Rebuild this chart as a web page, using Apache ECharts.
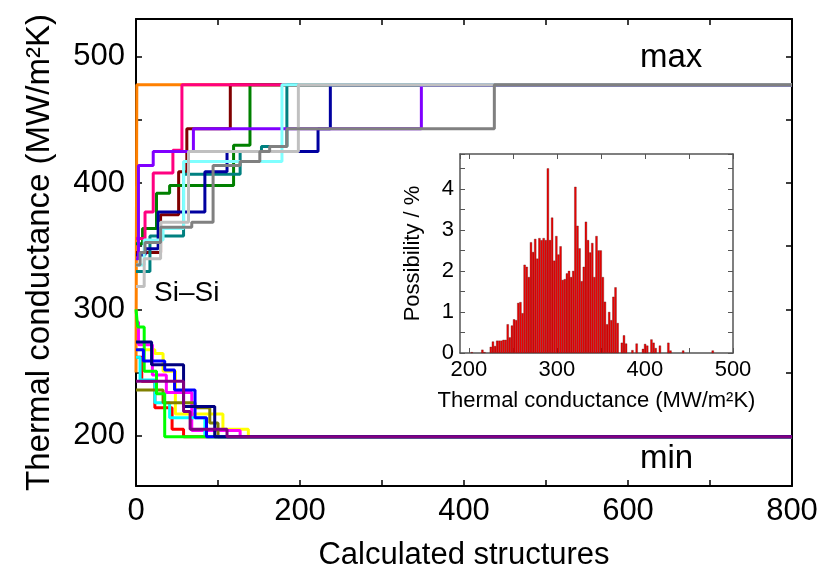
<!DOCTYPE html>
<html lang="en">
<head>
<meta charset="UTF-8">
<title>Thermal conductance search</title>
<script src="https://cdn.jsdelivr.net/npm/echarts@6/dist/echarts.min.js"></script>
<style>
  html, body { margin: 0; padding: 0; background: #fff; }
  #chart { width: 821px; height: 576px; }
</style>
</head>
<body>
<div id="chart"></div>
<script>
// step curves: [structure index where the value changes, new value]
// upper group -> converges to max
var orangeUp = [[0, 250], [1, 478], [800, 478]];
var maroonUp = [[0, 345], [30, 375], [52, 409], [62, 443], [115, 478], [800, 478]];
var greenUp = [[0, 352], [8, 364], [25, 392], [41, 398], [119, 430], [139, 478], [800, 478]];
var pinkUp = [[0, 356], [11, 377], [21, 408], [45, 426], [56, 478], [800, 478]];
var tealUp = [[0, 330], [17, 358], [58, 407], [127, 425], [153, 429], [184, 478], [800, 478]];
var navyUp = [[0, 343], [11, 348], [27, 377], [84, 409], [111, 425], [222, 443], [237, 478], [800, 478]];
var violetUp = [[0, 340], [3, 414], [21, 425], [70, 443], [348, 478], [800, 478]];
var cyanUp = [[0, 335], [10, 355], [33, 364], [58, 417], [178, 478], [800, 478]];
var lgrayUp = [[0, 318], [10, 340], [30, 369], [64, 425], [198, 478], [800, 478]];
var grayUp = [[0, 335], [5, 345], [11, 353], [30, 365], [68, 369], [94, 414], [127, 417], [151, 425], [163, 429], [184, 443], [437, 478], [800, 478]];

// lower group -> converges to min
var redLo = [[0, 262], [7, 243], [23, 222], [44, 205], [58, 199], [800, 199]];
var yellowLo = [[0, 268], [23, 265], [33, 251], [48, 217], [106, 205], [137, 199], [800, 199]];
var magentaLo = [[0, 290], [3, 272], [20, 248], [37, 234], [68, 204], [127, 199], [800, 199]];
var cyanLo = [[0, 262], [5, 244], [23, 226], [41, 214], [84, 199], [800, 199]];
var oliveLo = [[0, 236], [33, 226], [72, 222], [90, 210], [100, 199], [800, 199]];
var limeLo = [[0, 300], [2, 286], [10, 251], [25, 233], [35, 199], [800, 199]];
var blueLo = [[0, 268], [9, 259], [35, 252], [47, 236], [72, 214], [86, 199], [800, 199]];
var navyLo = [[0, 274], [19, 256], [58, 223], [96, 199], [800, 199]];
var purpleLo = [[0, 243], [58, 219], [66, 205], [111, 199], [800, 199]];

// inset histogram (Possibility / %), bins of 2.4 starting at 203.4
var histStart = 203.4;
var binWidth = 2.4;
var histHeights = [
  0.02, 0, 0, 0, 0, 0.08, 0.02, 0, 0, 0.15,
  0.28, 0.17, 0.3, 0.3, 0.3, 0.32, 0.32, 0.7, 0.38, 0.67,
  0.82, 0.8, 1.22, 1.24, 0.97, 2.15, 2.1, 1.85, 2.7, 2.46,
  2.78, 2.3, 2.8, 2.75, 2.8, 2.75, 4.5, 2.75, 3.3, 2.25,
  2.85, 2.4, 2.6, 1.78, 1.8, 1.94, 2.0, 1.85, 2.0, 4.05,
  3.1, 2.55, 1.75, 2.1, 3.2, 2.75, 2.45, 2.68, 1.85, 2.85,
  2.5, 2.5, 1.85, 1.25, 0.7, 1.0, 0.8, 1.37, 1.6, 0.73,
  0, 0.25, 0.43, 0.23, 0, 0, 0.07, 0, 0.23, 0,
  0, 0.1, 0.22, 0.18, 0, 0.33, 0.25, 0.12, 0, 0.18,
  0, 0, 0, 0.25, 0.06, 0, 0, 0, 0, 0,
  0.06, 0, 0, 0, 0, 0, 0, 0, 0, 0,
  0, 0, 0, 0, 0.06
];

var FONT = 'Liberation Sans, Arial, sans-serif';

var steps = [
  [orangeUp, '#ff8000'], [maroonUp, '#800000'], [greenUp, '#008000'], [pinkUp, '#ff0080'],
  [tealUp, '#008080'], [navyUp, '#0000a0'], [violetUp, '#8000ff'], [cyanUp, '#80ffff'],
  [lgrayUp, '#c0c0c0'], [grayUp, '#808080'],
  [redLo, '#ff0000'], [yellowLo, '#ffff00'], [magentaLo, '#ff00ff'], [cyanLo, '#00ffff'],
  [oliveLo, '#808000'], [limeLo, '#00ff00'], [blueLo, '#0000ff'], [navyLo, '#000080'],
  [purpleLo, '#800080']
];

var series = [];
for (var i = 0; i < steps.length; i++) {
  series.push({
    type: 'line',
    step: 'end',
    xAxisIndex: 0,
    yAxisIndex: 0,
    showSymbol: false,
    data: steps[i][0],
    lineStyle: { color: steps[i][1], width: 3 },
    z: 2 + i * 0.01
  });
}

var histData = [];
for (var k = 0; k < histHeights.length; k++) {
  if (histHeights[k] > 0) histData.push([histStart + k * binWidth, histHeights[k]]);
}
series.push({
  type: 'bar',
  xAxisIndex: 2,
  yAxisIndex: 2,
  data: histData,
  barWidth: 2.2,
  itemStyle: { color: '#f20000', borderColor: '#5a1010', borderWidth: 0.35 }
});

function boxAxis(extra) {
  var base = {
    axisLine: { show: true, onZero: false, lineStyle: { color: '#000', width: 2 } },
    axisTick: { show: true, inside: true, length: 6, lineStyle: { color: '#000', width: 1.5 } },
    splitLine: { show: false },
    axisLabel: { show: false }
  };
  for (var key in extra) base[key] = extra[key];
  return base;
}

var hundreds = function (v) { return v % 100 === 0 ? String(v) : ''; };
var insetLine = { show: true, onZero: false, lineStyle: { color: '#555', width: 1.5 } };
var insetTick = { show: true, inside: true, length: 5, lineStyle: { color: '#555', width: 1 } };
var mainMinor = { show: true, splitNumber: 2, length: 6, lineStyle: { color: '#000', width: 1.5 } };

var option = {
  animation: false,
  backgroundColor: '#fff',
  grid: [
    { left: 136, right: 29, top: 19, bottom: 90 },
    { left: 460, right: 88, top: 154, bottom: 223, show: true, backgroundColor: '#fff', borderWidth: 0 }
  ],
  xAxis: [
    boxAxis({
      type: 'value', gridIndex: 0, min: 0, max: 800, interval: 200, position: 'bottom',
      minorTick: mainMinor,
      axisLabel: { show: true, color: '#000', fontFamily: FONT, fontSize: 31, margin: 10 },
      name: 'Calculated structures', nameLocation: 'middle', nameGap: 54,
      nameTextStyle: { color: '#000', fontFamily: FONT, fontSize: 31 }
    }),
    boxAxis({
      type: 'value', gridIndex: 0, min: 0, max: 800, interval: 200, position: 'top',
      minorTick: mainMinor
    }),
    boxAxis({
      type: 'value', gridIndex: 1, min: 190, max: 500, splitNumber: 6, position: 'bottom',
      axisLine: insetLine, axisTick: insetTick,
      axisLabel: { show: true, color: '#000', fontFamily: FONT, fontSize: 22, margin: 6, formatter: hundreds, showMinLabel: false },
      name: 'Thermal conductance (MW/m\u00b2K)', nameLocation: 'middle', nameGap: 37,
      nameTextStyle: { color: '#000', fontFamily: FONT, fontSize: 22 }
    }),
    boxAxis({
      type: 'value', gridIndex: 1, min: 190, max: 500, splitNumber: 6, position: 'top',
      axisLine: insetLine, axisTick: insetTick
    })
  ],
  yAxis: [
    boxAxis({
      type: 'value', gridIndex: 0, min: 160, max: 530, splitNumber: 7, position: 'left',
      axisLabel: { show: true, color: '#000', fontFamily: FONT, fontSize: 31, margin: 11, formatter: hundreds, showMinLabel: false, showMaxLabel: false },
      name: 'Thermal conductance (MW/m\u00b2K)', nameLocation: 'middle', nameGap: 80,
      nameTextStyle: { color: '#000', fontFamily: FONT, fontSize: 33 }
    }),
    boxAxis({
      type: 'value', gridIndex: 0, min: 160, max: 530, splitNumber: 7, position: 'right'
    }),
    boxAxis({
      type: 'value', gridIndex: 1, min: 0, max: 4.85, interval: 0.5, position: 'left',
      axisLine: insetLine, axisTick: insetTick,
      axisLabel: {
        show: true, color: '#000', fontFamily: FONT, fontSize: 22, margin: 6,
        formatter: function (v) { return Math.abs(v - Math.round(v)) < 1e-6 ? String(Math.round(v)) : ''; }
      },
      name: 'Possibility / %', nameLocation: 'middle', nameGap: 36,
      nameTextStyle: { color: '#000', fontFamily: FONT, fontSize: 22 }
    }),
    boxAxis({
      type: 'value', gridIndex: 1, min: 0, max: 4.85, interval: 0.5, position: 'right',
      axisLine: insetLine, axisTick: insetTick
    })
  ],
  graphic: [
    { type: 'text', left: 640, top: 41, style: { text: 'max', fill: '#000', font: '33px ' + FONT } },
    { type: 'text', left: 640, top: 442, style: { text: 'min', fill: '#000', font: '33px ' + FONT } },
    { type: 'text', left: 154, top: 279, style: { text: 'Si\u2013Si', fill: '#000', font: '28px ' + FONT } }
  ],
  series: series
};

var chart = echarts.init(document.getElementById('chart'), null, { renderer: 'canvas' });
chart.setOption(option);
</script>
</body>
</html>
